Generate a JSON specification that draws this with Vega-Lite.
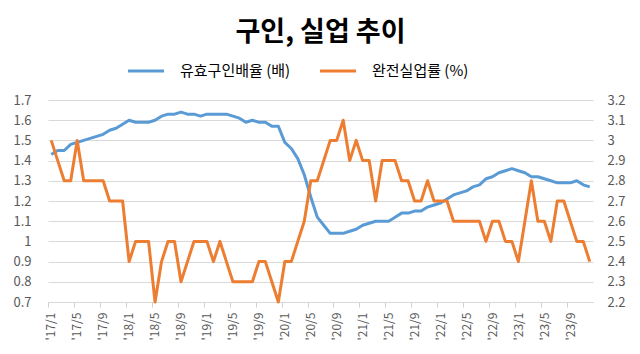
{
  "$schema": "https://vega.github.io/schema/vega-lite/v6.json",
  "width": 545,
  "height": 202,
  "autosize": {"type": "none"},
  "padding": {"left": 48, "top": 100, "right": 47, "bottom": 52},
  "background": "white",
  "title": {"text": "구인, 실업 추이", "font": "Noto Sans CJK KR", "fontSize": 27, "fontWeight": "bold", "color": "#000000", "anchor": "middle", "offset": 4},
  "config": {
    "view": {"stroke": null},
    "font": "Noto Sans CJK KR"
  },
  "data": {"values": [
    {"m": "'17/1", "job": 1.43, "unemp": 3.0},
    {"m": "'17/2", "job": 1.45, "unemp": 2.9},
    {"m": "'17/3", "job": 1.45, "unemp": 2.8},
    {"m": "'17/4", "job": 1.48, "unemp": 2.8},
    {"m": "'17/5", "job": 1.49, "unemp": 3.0},
    {"m": "'17/6", "job": 1.50, "unemp": 2.8},
    {"m": "'17/7", "job": 1.51, "unemp": 2.8},
    {"m": "'17/8", "job": 1.52, "unemp": 2.8},
    {"m": "'17/9", "job": 1.53, "unemp": 2.8},
    {"m": "'17/10", "job": 1.55, "unemp": 2.7},
    {"m": "'17/11", "job": 1.56, "unemp": 2.7},
    {"m": "'17/12", "job": 1.58, "unemp": 2.7},
    {"m": "'18/1", "job": 1.60, "unemp": 2.4},
    {"m": "'18/2", "job": 1.59, "unemp": 2.5},
    {"m": "'18/3", "job": 1.59, "unemp": 2.5},
    {"m": "'18/4", "job": 1.59, "unemp": 2.5},
    {"m": "'18/5", "job": 1.60, "unemp": 2.2},
    {"m": "'18/6", "job": 1.62, "unemp": 2.4},
    {"m": "'18/7", "job": 1.63, "unemp": 2.5},
    {"m": "'18/8", "job": 1.63, "unemp": 2.5},
    {"m": "'18/9", "job": 1.64, "unemp": 2.3},
    {"m": "'18/10", "job": 1.63, "unemp": 2.4},
    {"m": "'18/11", "job": 1.63, "unemp": 2.5},
    {"m": "'18/12", "job": 1.62, "unemp": 2.5},
    {"m": "'19/1", "job": 1.63, "unemp": 2.5},
    {"m": "'19/2", "job": 1.63, "unemp": 2.4},
    {"m": "'19/3", "job": 1.63, "unemp": 2.5},
    {"m": "'19/4", "job": 1.63, "unemp": 2.4},
    {"m": "'19/5", "job": 1.62, "unemp": 2.3},
    {"m": "'19/6", "job": 1.61, "unemp": 2.3},
    {"m": "'19/7", "job": 1.59, "unemp": 2.3},
    {"m": "'19/8", "job": 1.60, "unemp": 2.3},
    {"m": "'19/9", "job": 1.59, "unemp": 2.4},
    {"m": "'19/10", "job": 1.59, "unemp": 2.4},
    {"m": "'19/11", "job": 1.57, "unemp": 2.3},
    {"m": "'19/12", "job": 1.57, "unemp": 2.2},
    {"m": "'20/1", "job": 1.49, "unemp": 2.4},
    {"m": "'20/2", "job": 1.46, "unemp": 2.4},
    {"m": "'20/3", "job": 1.41, "unemp": 2.5},
    {"m": "'20/4", "job": 1.33, "unemp": 2.6},
    {"m": "'20/5", "job": 1.22, "unemp": 2.8},
    {"m": "'20/6", "job": 1.12, "unemp": 2.8},
    {"m": "'20/7", "job": 1.08, "unemp": 2.9},
    {"m": "'20/8", "job": 1.04, "unemp": 3.0},
    {"m": "'20/9", "job": 1.04, "unemp": 3.0},
    {"m": "'20/10", "job": 1.04, "unemp": 3.1},
    {"m": "'20/11", "job": 1.05, "unemp": 2.9},
    {"m": "'20/12", "job": 1.06, "unemp": 3.0},
    {"m": "'21/1", "job": 1.08, "unemp": 2.9},
    {"m": "'21/2", "job": 1.09, "unemp": 2.9},
    {"m": "'21/3", "job": 1.10, "unemp": 2.7},
    {"m": "'21/4", "job": 1.10, "unemp": 2.9},
    {"m": "'21/5", "job": 1.10, "unemp": 2.9},
    {"m": "'21/6", "job": 1.12, "unemp": 2.9},
    {"m": "'21/7", "job": 1.14, "unemp": 2.8},
    {"m": "'21/8", "job": 1.14, "unemp": 2.8},
    {"m": "'21/9", "job": 1.15, "unemp": 2.7},
    {"m": "'21/10", "job": 1.15, "unemp": 2.7},
    {"m": "'21/11", "job": 1.17, "unemp": 2.8},
    {"m": "'21/12", "job": 1.18, "unemp": 2.7},
    {"m": "'22/1", "job": 1.19, "unemp": 2.7},
    {"m": "'22/2", "job": 1.21, "unemp": 2.7},
    {"m": "'22/3", "job": 1.23, "unemp": 2.6},
    {"m": "'22/4", "job": 1.24, "unemp": 2.6},
    {"m": "'22/5", "job": 1.25, "unemp": 2.6},
    {"m": "'22/6", "job": 1.27, "unemp": 2.6},
    {"m": "'22/7", "job": 1.28, "unemp": 2.6},
    {"m": "'22/8", "job": 1.31, "unemp": 2.5},
    {"m": "'22/9", "job": 1.32, "unemp": 2.6},
    {"m": "'22/10", "job": 1.34, "unemp": 2.6},
    {"m": "'22/11", "job": 1.35, "unemp": 2.5},
    {"m": "'22/12", "job": 1.36, "unemp": 2.5},
    {"m": "'23/1", "job": 1.35, "unemp": 2.4},
    {"m": "'23/2", "job": 1.34, "unemp": 2.6},
    {"m": "'23/3", "job": 1.32, "unemp": 2.8},
    {"m": "'23/4", "job": 1.32, "unemp": 2.6},
    {"m": "'23/5", "job": 1.31, "unemp": 2.6},
    {"m": "'23/6", "job": 1.30, "unemp": 2.5},
    {"m": "'23/7", "job": 1.29, "unemp": 2.7},
    {"m": "'23/8", "job": 1.29, "unemp": 2.7},
    {"m": "'23/9", "job": 1.29, "unemp": 2.6},
    {"m": "'23/10", "job": 1.30, "unemp": 2.5},
    {"m": "'23/11", "job": 1.28, "unemp": 2.5},
    {"m": "'23/12", "job": 1.27, "unemp": 2.4}
  ]},
  "encoding": {
    "x": {
      "field": "m", "type": "ordinal", "sort": null,
      "scale": {"type": "point", "padding": 0.5},
      "axis": {
        "title": null,
        "values": ["'17/1","'17/5","'17/9","'18/1","'18/5","'18/9","'19/1","'19/5","'19/9","'20/1","'20/5","'20/9","'21/1","'21/5","'21/9","'22/1","'22/5","'22/9","'23/1","'23/5","'23/9"],
        "labelAngle": -90,
        "labelFontSize": 12,
        "labelColor": "#595959",
        "labelPadding": 5,
        "labelOffset": 3,
        "tickSize": 5,
        "tickColor": "#d0d0d0",
        "domainColor": "#d9d9d9",
        "tickOffset": -3.25,
        "grid": false
      }
    }
  },
  "layer": [
    {
      "mark": {"type": "line", "strokeWidth": 3, "strokeJoin": "round", "strokeCap": "butt"},
      "encoding": {
        "y": {
          "field": "job", "type": "quantitative",
          "scale": {"domain": [0.7, 1.7], "nice": false, "zero": false},
          "axis": {
            "title": null, "orient": "left",
            "values": [0.7, 0.8, 0.9, 1.0, 1.1, 1.2, 1.3, 1.4, 1.5, 1.6, 1.7],
            "format": ".1~f",
            "labelFontSize": 13, "labelColor": "#595959", "labelPadding": 17,
            "domain": false, "ticks": false,
            "grid": true, "gridColor": "#d9d9d9", "gridWidth": 1
          }
        },
        "color": {
          "datum": "유효구인배율 (배)", "type": "nominal",
          "scale": {"domain": ["유효구인배율 (배)", "완전실업률 (%)"], "range": ["#5B9BD5", "#ED7D31"]},
          "legend": {
            "title": null, "orient": "none", "legendX": 78, "legendY": -49,
            "direction": "horizontal", "padding": 0,
            "symbolType": "stroke", "symbolStrokeWidth": 3, "symbolSize": 1300,
            "labelFontSize": 15, "labelColor": "#000000", "labelOffset": 14,
            "columnPadding": 22
          }
        }
      }
    },
    {
      "mark": {"type": "line", "strokeWidth": 3, "strokeJoin": "round", "strokeCap": "butt"},
      "encoding": {
        "y": {
          "field": "unemp", "type": "quantitative",
          "scale": {"domain": [2.2, 3.2], "nice": false, "zero": false},
          "axis": {
            "title": null, "orient": "right",
            "values": [2.2, 2.3, 2.4, 2.5, 2.6, 2.7, 2.8, 2.9, 3.0, 3.1, 3.2],
            "format": ".1~f",
            "labelFontSize": 13, "labelColor": "#595959", "labelPadding": 14,
            "domain": false, "ticks": false, "grid": false
          }
        },
        "color": {"datum": "완전실업률 (%)", "type": "nominal"}
      }
    }
  ],
  "resolve": {"scale": {"y": "independent"}}
}
